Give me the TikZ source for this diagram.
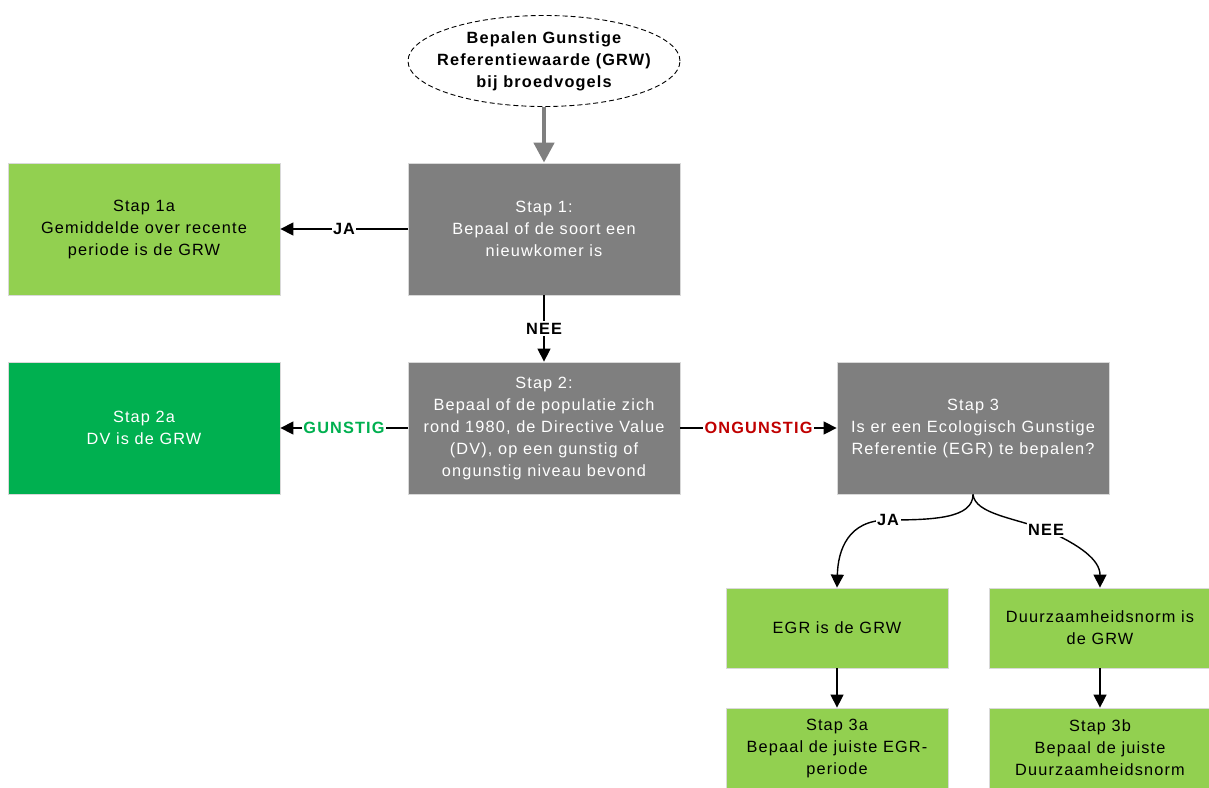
\documentclass[tikz,border=0pt]{standalone}
\usepackage{fontspec}
\setmainfont{Liberation Sans}[LetterSpace=7]
\usetikzlibrary{arrows.meta,shapes.geometric}
\definecolor{boxgray}{HTML}{7F7F7F}
\definecolor{lgreen}{HTML}{92D050}
\definecolor{dgreen}{HTML}{00B050}
\definecolor{dred}{HTML}{C00000}
\tikzset{
  box/.style={draw=black!15, line width=0.8pt, minimum width=272pt, minimum height=132pt, align=center, inner sep=0pt, font=\fontsize{16.3}{22}\selectfont},
  graybox/.style={box, fill=boxgray, text=white},
  lgbox/.style={box, fill=lgreen, text=black},
  dgbox/.style={box, fill=dgreen, text=white},
  smallbox/.style={box, fill=lgreen, text=black, minimum width=222pt, minimum height=80pt},
  arr/.style={-{Triangle[length=13pt,width=13pt]}, line width=1.4pt, black},
  lbl/.style={font=\fontsize{16.3}{18}\selectfont\bfseries, fill=white, inner sep=1.5pt},
}
\begin{document}
\begin{tikzpicture}[x=1pt,y=-1pt]
\useasboundingbox (0,0) rectangle (1209,787);
\fill[white] (0,0) rectangle (1209,787);
\node[ellipse, draw=black, dash pattern=on 5pt off 3pt, line width=0.9pt, minimum width=272pt, minimum height=91pt, align=center, inner xsep=-12pt, inner ysep=-2pt, font=\fontsize{16.3}{22}\selectfont\bfseries] (start) at (544,61) {Bepalen Gunstige\\Referentiewaarde (GRW)\\bij broedvogels};
\node[graybox] (s1) at (544,229) {Stap 1:\\Bepaal of de soort een\\nieuwkomer is};
\node[lgbox] (s1a) at (144,229) {Stap 1a\\Gemiddelde over recente\\periode is de GRW};
\node[graybox] (s2) at (544,428) {Stap 2:\\Bepaal of de populatie zich\\rond 1980, de Directive Value\\(DV), op een gunstig of\\ongunstig niveau bevond};
\node[dgbox] (s2a) at (144,428) {Stap 2a\\DV is de GRW};
\node[graybox] (s3) at (973,428) {Stap 3\\Is er een Ecologisch Gunstige\\Referentie (EGR) te bepalen?};
\node[smallbox] (egr) at (837,628) {EGR is de GRW};
\node[smallbox, minimum width=221pt] (dn) at (1100,628) {Duurzaamheidsnorm is\\de GRW};
\node[smallbox] (s3a) at (837,748) {Stap 3a\\Bepaal de juiste EGR-\\periode};
\node[smallbox, minimum width=221pt] (s3b) at (1100,748) {Stap 3b\\Bepaal de juiste\\Duurzaamheidsnorm};
\draw[-{Triangle[length=20pt,width=20pt]}, line width=4.5pt, boxgray] (start.south) -- (s1.north);
\draw[arr] (s1.west) -- node[lbl] {JA} (s1a.east);
\draw[arr] (s1.south) -- node[lbl] {NEE} (s2.north);
\draw[arr] (s2.west) -- node[lbl, text=dgreen] {GUNSTIG} (s2a.east);
\draw[arr] (s2.east) -- node[lbl, text=dred] {ONGUNSTIG} (s3.west);
\coordinate (ja) at (888,520);
\coordinate (nee) at (1046,530);
\draw[arr] (s3.south) .. controls (973,518) and (935,520) .. (ja) .. controls (848,520) and (838,550) .. (egr.north);
\draw[arr] (s3.south) .. controls (975,514) and (1015,518) .. (nee) .. controls (1080,545) and (1100,560) .. (dn.north);
\node[lbl] (jal) at (ja) {JA};
\node[lbl] (neel) at (nee) {NEE};
\draw[arr] (egr.south) -- (s3a.north);
\draw[arr] (dn.south) -- (s3b.north);
\end{tikzpicture}
\end{document}
